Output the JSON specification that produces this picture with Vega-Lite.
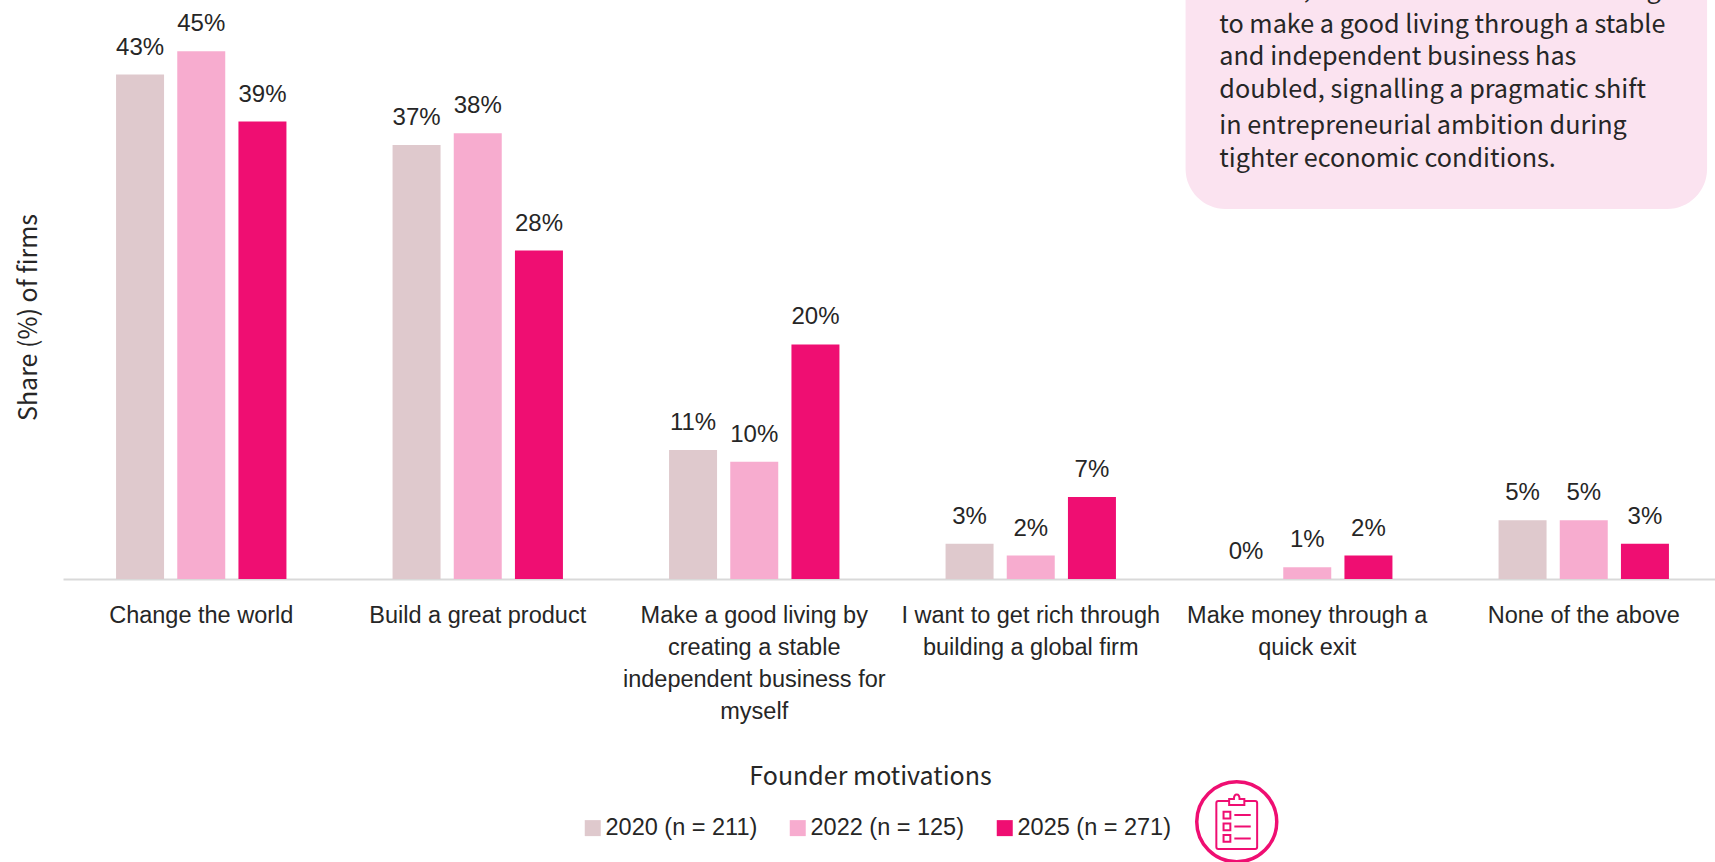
{
  "$schema": "https://vega.github.io/schema/vega-lite/v6.json",
  "autosize": "none",
  "padding": {"left": 63, "top": 0, "right": 0, "bottom": 283},
  "width": 1652,
  "height": 579,
  "background": "white",
  "config": {"view": {"stroke": null}},
  "datasets": {
    "shares": [
      {"motivation": "Change the world", "year": "2020 (n = 211)", "share": 0.43},
      {"motivation": "Change the world", "year": "2022 (n = 125)", "share": 0.45},
      {"motivation": "Change the world", "year": "2025 (n = 271)", "share": 0.39},
      {"motivation": "Build a great product", "year": "2020 (n = 211)", "share": 0.37},
      {"motivation": "Build a great product", "year": "2022 (n = 125)", "share": 0.38},
      {"motivation": "Build a great product", "year": "2025 (n = 271)", "share": 0.28},
      {"motivation": "Make a good living by|creating a stable|independent business for|myself", "year": "2020 (n = 211)", "share": 0.11},
      {"motivation": "Make a good living by|creating a stable|independent business for|myself", "year": "2022 (n = 125)", "share": 0.10},
      {"motivation": "Make a good living by|creating a stable|independent business for|myself", "year": "2025 (n = 271)", "share": 0.20},
      {"motivation": "I want to get rich through|building a global firm", "year": "2020 (n = 211)", "share": 0.03},
      {"motivation": "I want to get rich through|building a global firm", "year": "2022 (n = 125)", "share": 0.02},
      {"motivation": "I want to get rich through|building a global firm", "year": "2025 (n = 271)", "share": 0.07},
      {"motivation": "Make money through a|quick exit", "year": "2020 (n = 211)", "share": 0},
      {"motivation": "Make money through a|quick exit", "year": "2022 (n = 125)", "share": 0.01},
      {"motivation": "Make money through a|quick exit", "year": "2025 (n = 271)", "share": 0.02},
      {"motivation": "None of the above", "year": "2020 (n = 211)", "share": 0.05},
      {"motivation": "None of the above", "year": "2022 (n = 125)", "share": 0.05},
      {"motivation": "None of the above", "year": "2025 (n = 271)", "share": 0.03}
    ],
    "callout": [
      {"from": 4.06, "to": 5.946, "top": 0.54, "bottom": 0.3155}
    ],
    "calloutLines": [
      {"slot": 4.182, "level": 0.4955, "line": "In 2025, the share of founders seeking"},
      {"slot": 4.182, "level": 0.4652, "line": "to make a good living through a stable"},
      {"slot": 4.182, "level": 0.4385, "line": "and independent business has"},
      {"slot": 4.182, "level": 0.4097, "line": "doubled, signalling a pragmatic shift"},
      {"slot": 4.182, "level": 0.3792, "line": "in entrepreneurial ambition during"},
      {"slot": 4.182, "level": 0.3512, "line": "tighter economic conditions."}
    ],
    "badge": [
      {"slot": 4.245, "level": -0.207}
    ]
  },
  "resolve": {"scale": {"x": "independent"}},
  "layer": [
    {
      "data": {"name": "shares"},
      "encoding": {
        "x": {
          "field": "motivation",
          "type": "nominal",
          "sort": null,
          "scale": {"range": [0, 1659], "paddingInner": 0, "paddingOuter": 0},
          "axis": {
            "title": "Founder motivations",
            "titleFont": "Noto Sans CJK JP",
            "titleFontWeight": "normal",
            "titleFontSize": 25,
            "titleColor": "#262626",
            "titleX": 807,
            "titleY": 185,
            "labelAngle": 0,
            "labelExpr": "split(datum.label, '|')",
            "labelFont": "Liberation Sans",
            "labelFontSize": 23.5,
            "labelColor": "#262626",
            "labelLineHeight": 32,
            "labelPadding": 24,
            "labelLimit": 0,
            "labelOverlap": false,
            "ticks": false,
            "domainColor": "#D9D9D9",
            "domainWidth": 2
          }
        },
        "xOffset": {
          "field": "year",
          "type": "nominal",
          "scale": {"paddingInner": 0.2157, "paddingOuter": 0.867}
        },
        "y": {
          "field": "share",
          "type": "quantitative",
          "scale": {"domain": [0, 0.4936], "nice": false},
          "axis": {
            "title": "Share (%) of firms",
            "titleFont": "Noto Sans CJK JP",
            "titleFontWeight": "normal",
            "titleFontSize": 25,
            "titleColor": "#262626",
            "titleX": -22,
            "titleY": 317,
            "labels": false,
            "ticks": false,
            "domain": false,
            "grid": false
          }
        }
      },
      "layer": [
        {
          "mark": {"type": "bar"},
          "encoding": {
            "color": {
              "field": "year",
              "type": "nominal",
              "scale": {"range": ["#DFC9CD", "#F7ACCF", "#EF0E72"]},
              "legend": {
                "title": null,
                "orient": "none",
                "legendX": 518,
                "legendY": 816,
                "direction": "horizontal",
                "columns": 3,
                "symbolType": "square",
                "symbolSize": 256,
                "symbolStrokeWidth": 0,
                "labelFont": "Liberation Sans",
                "labelFontSize": 23.5,
                "labelColor": "#262626",
                "labelLimit": 0,
                "labelOffset": 1,
                "columnPadding": 28
              }
            }
          }
        },
        {
          "mark": {
            "type": "text",
            "baseline": "alphabetic",
            "dy": -20,
            "font": "Liberation Sans",
            "fontSize": 24,
            "color": "#262626"
          },
          "encoding": {
            "text": {"field": "share", "type": "quantitative", "format": ".0%"}
          }
        }
      ]
    },
    {
      "data": {"name": "callout"},
      "mark": {"type": "rect", "color": "#FBE3F0", "cornerRadius": 40},
      "encoding": {
        "x": {"field": "from", "type": "quantitative", "scale": {"domain": [0, 6], "range": [0, 1659], "nice": false}, "axis": null},
        "x2": {"field": "to"},
        "y": {"field": "top", "type": "quantitative"},
        "y2": {"field": "bottom"}
      }
    },
    {
      "data": {"name": "calloutLines"},
      "mark": {
        "type": "text",
        "align": "left",
        "baseline": "alphabetic",
        "font": "Noto Sans CJK JP",
        "fontSize": 25.2,
        "color": "#262626"
      },
      "encoding": {
        "x": {"field": "slot", "type": "quantitative", "scale": {"domain": [0, 6], "range": [0, 1659], "nice": false}, "axis": null},
        "y": {"field": "level", "type": "quantitative"},
        "text": {"field": "line"}
      }
    },
    {
      "data": {"name": "badge"},
      "encoding": {
        "x": {"field": "slot", "type": "quantitative", "scale": {"domain": [0, 6], "range": [0, 1659], "nice": false}, "axis": null},
        "y": {"field": "level", "type": "quantitative"}
      },
      "layer": [
        {
          "mark": {"type": "point", "shape": "circle", "size": 6400, "filled": false, "stroke": "#EF0E72", "strokeWidth": 3.5, "opacity": 1, "clip": false}
        },
        {
          "mark": {
            "type": "point",
            "shape": "M-.19 -.52H-.46Q-.51 -.52 -.51 -.47V.63Q-.51 .68 -.46 .68H.46Q.51 .68 .51 .63V-.47Q.51 -.52 .46 -.52H.19M-.19 -.42V-.57H-.07C-.07 -.72 .07 -.72 .07 -.57H.19V-.42ZM-.33 -.25H-.16V-.08H-.33ZM-.06 -.17H.35M-.33 .04H-.16V.21H-.33ZM-.06 .12H.35M-.33 .33H-.16V.5H-.33ZM-.06 .42H.35",
            "size": 6400,
            "filled": false,
            "stroke": "#EF0E72",
            "strokeWidth": 2,
            "opacity": 1,
            "clip": false
          }
        }
      ]
    }
  ]
}
